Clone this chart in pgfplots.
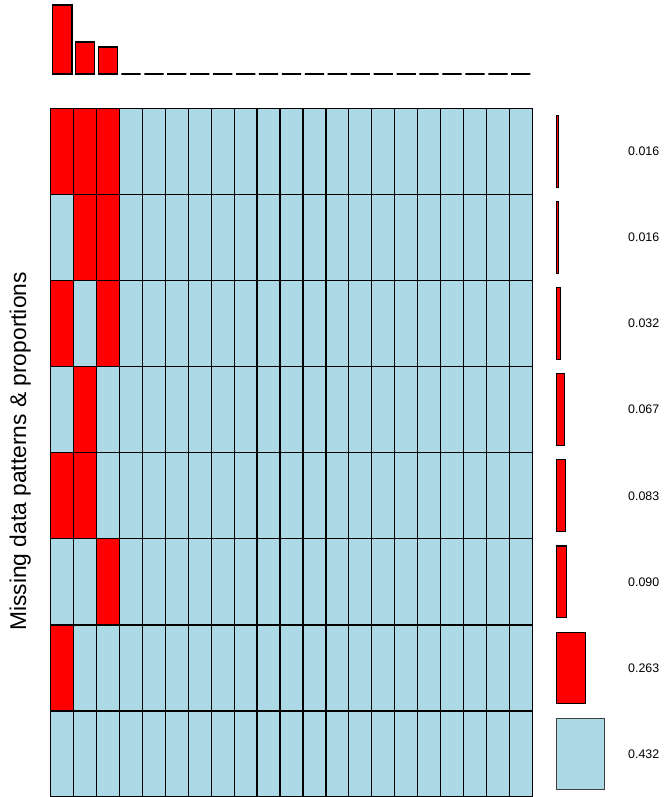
\documentclass[border=0pt]{standalone}
\usepackage{pgfplots}
\pgfplotsset{compat=1.18}
\usepackage{pgfplotstable}
\usepackage{fontspec}
\setmainfont{Liberation Sans}

\definecolor{misscol}{RGB}{255,0,0}
\definecolor{obscol}{RGB}{173,216,230}

% proportion of missing values per variable (top bars)
\pgfplotstableread{
x prop
0.5 0.394
1.5 0.182
2.5 0.154
3.5 0
4.5 0
5.5 0
6.5 0
7.5 0
8.5 0
9.5 0
10.5 0
11.5 0
12.5 0
13.5 0
14.5 0
15.5 0
16.5 0
17.5 0
18.5 0
19.5 0
20.5 0
}\varmiss

% proportion of each missingness pattern (right bars)
\pgfplotstableread{
y p
7.5 0.016
6.5 0.016
5.5 0.032
4.5 0.067
3.5 0.083
2.5 0.090
1.5 0.263
0.5 0.432
}\patterns

\begin{document}
\begin{tikzpicture}
\useasboundingbox (0pt,0pt) rectangle (664pt,797pt);

% pattern grid: 1 = missing, 0 = observed; rows listed from the top pattern down
\begin{axis}[
  at={(50.7pt,0pt)}, anchor=south west,
  scale only axis, width=481.6pt, height=688.5pt,
  xmin=0, xmax=21, ymin=0, ymax=8,
  hide axis, clip=false,
]
\addplot[scatter, only marks, scatter src=explicit symbolic,
  mark=square*, mark size=11.465pt,
  every mark/.append style={yscale=3.7535, line width=1.3pt, draw=black},
  scatter/classes={0={mark=square*, fill=obscol, draw=black},
                   1={mark=square*, fill=misscol, draw=black}}]
  coordinates {
(0.5,7.5)[1] (1.5,7.5)[1] (2.5,7.5)[1] (3.5,7.5)[0] (4.5,7.5)[0] (5.5,7.5)[0] (6.5,7.5)[0] (7.5,7.5)[0] (8.5,7.5)[0] (9.5,7.5)[0] (10.5,7.5)[0] (11.5,7.5)[0] (12.5,7.5)[0] (13.5,7.5)[0] (14.5,7.5)[0] (15.5,7.5)[0] (16.5,7.5)[0] (17.5,7.5)[0] (18.5,7.5)[0] (19.5,7.5)[0] (20.5,7.5)[0]
(0.5,6.5)[0] (1.5,6.5)[1] (2.5,6.5)[1] (3.5,6.5)[0] (4.5,6.5)[0] (5.5,6.5)[0] (6.5,6.5)[0] (7.5,6.5)[0] (8.5,6.5)[0] (9.5,6.5)[0] (10.5,6.5)[0] (11.5,6.5)[0] (12.5,6.5)[0] (13.5,6.5)[0] (14.5,6.5)[0] (15.5,6.5)[0] (16.5,6.5)[0] (17.5,6.5)[0] (18.5,6.5)[0] (19.5,6.5)[0] (20.5,6.5)[0]
(0.5,5.5)[1] (1.5,5.5)[0] (2.5,5.5)[1] (3.5,5.5)[0] (4.5,5.5)[0] (5.5,5.5)[0] (6.5,5.5)[0] (7.5,5.5)[0] (8.5,5.5)[0] (9.5,5.5)[0] (10.5,5.5)[0] (11.5,5.5)[0] (12.5,5.5)[0] (13.5,5.5)[0] (14.5,5.5)[0] (15.5,5.5)[0] (16.5,5.5)[0] (17.5,5.5)[0] (18.5,5.5)[0] (19.5,5.5)[0] (20.5,5.5)[0]
(0.5,4.5)[0] (1.5,4.5)[1] (2.5,4.5)[0] (3.5,4.5)[0] (4.5,4.5)[0] (5.5,4.5)[0] (6.5,4.5)[0] (7.5,4.5)[0] (8.5,4.5)[0] (9.5,4.5)[0] (10.5,4.5)[0] (11.5,4.5)[0] (12.5,4.5)[0] (13.5,4.5)[0] (14.5,4.5)[0] (15.5,4.5)[0] (16.5,4.5)[0] (17.5,4.5)[0] (18.5,4.5)[0] (19.5,4.5)[0] (20.5,4.5)[0]
(0.5,3.5)[1] (1.5,3.5)[1] (2.5,3.5)[0] (3.5,3.5)[0] (4.5,3.5)[0] (5.5,3.5)[0] (6.5,3.5)[0] (7.5,3.5)[0] (8.5,3.5)[0] (9.5,3.5)[0] (10.5,3.5)[0] (11.5,3.5)[0] (12.5,3.5)[0] (13.5,3.5)[0] (14.5,3.5)[0] (15.5,3.5)[0] (16.5,3.5)[0] (17.5,3.5)[0] (18.5,3.5)[0] (19.5,3.5)[0] (20.5,3.5)[0]
(0.5,2.5)[0] (1.5,2.5)[0] (2.5,2.5)[1] (3.5,2.5)[0] (4.5,2.5)[0] (5.5,2.5)[0] (6.5,2.5)[0] (7.5,2.5)[0] (8.5,2.5)[0] (9.5,2.5)[0] (10.5,2.5)[0] (11.5,2.5)[0] (12.5,2.5)[0] (13.5,2.5)[0] (14.5,2.5)[0] (15.5,2.5)[0] (16.5,2.5)[0] (17.5,2.5)[0] (18.5,2.5)[0] (19.5,2.5)[0] (20.5,2.5)[0]
(0.5,1.5)[1] (1.5,1.5)[0] (2.5,1.5)[0] (3.5,1.5)[0] (4.5,1.5)[0] (5.5,1.5)[0] (6.5,1.5)[0] (7.5,1.5)[0] (8.5,1.5)[0] (9.5,1.5)[0] (10.5,1.5)[0] (11.5,1.5)[0] (12.5,1.5)[0] (13.5,1.5)[0] (14.5,1.5)[0] (15.5,1.5)[0] (16.5,1.5)[0] (17.5,1.5)[0] (18.5,1.5)[0] (19.5,1.5)[0] (20.5,1.5)[0]
(0.5,0.5)[0] (1.5,0.5)[0] (2.5,0.5)[0] (3.5,0.5)[0] (4.5,0.5)[0] (5.5,0.5)[0] (6.5,0.5)[0] (7.5,0.5)[0] (8.5,0.5)[0] (9.5,0.5)[0] (10.5,0.5)[0] (11.5,0.5)[0] (12.5,0.5)[0] (13.5,0.5)[0] (14.5,0.5)[0] (15.5,0.5)[0] (16.5,0.5)[0] (17.5,0.5)[0] (18.5,0.5)[0] (19.5,0.5)[0] (20.5,0.5)[0]
};
\end{axis}

% missing proportion per variable
\begin{axis}[
  at={(50.7pt,723pt)}, anchor=south west,
  scale only axis, width=481.6pt, height=69pt,
  xmin=0, xmax=21, ymin=0, ymax=0.394,
  hide axis, clip=false,
]
\addplot[ybar, bar width=0.84, bar shift=0pt, fill=misscol, draw=black, line width=1.4pt]
  table[x=x, y=prop] {\varmiss};
\end{axis}

% pattern proportions
\begin{axis}[
  at={(556.7pt,0pt)}, anchor=south west,
  scale only axis, width=48pt, height=688.5pt,
  xmin=0, xmax=0.432, ymin=0, ymax=8,
  hide axis, clip=false,
  /pgf/number format/assume math mode=true,
]
\addplot[xbar, bar width=0.833, bar shift=0pt, fill=misscol, draw=black, line width=1.1pt,
  restrict y to domain=1:8]
  table[x=p, y=y] {\patterns};
\addplot[xbar, bar width=0.833, bar shift=0pt, fill=obscol, draw=black!75, line width=1.1pt,
  restrict y to domain=0:1]
  table[x=p, y=y] {\patterns};
\addplot[draw=none, mark=none, point meta=explicit,
  nodes near coords={\pgfmathprintnumber[fixed,fixed zerofill,precision=3]{\pgfplotspointmeta}},
  every node near coord/.append style={anchor=west, inner sep=0pt, text=black,
    font=\fontsize{12.4}{14}\selectfont}]
  table[x expr=0.642, y=y, meta=p] {\patterns};
\end{axis}

\node[rotate=90, anchor=base, font=\fontsize{22.8}{26}\selectfont]
  at (26pt,345.5pt) {Missing data patterns \& proportions};
\end{tikzpicture}
\end{document}
